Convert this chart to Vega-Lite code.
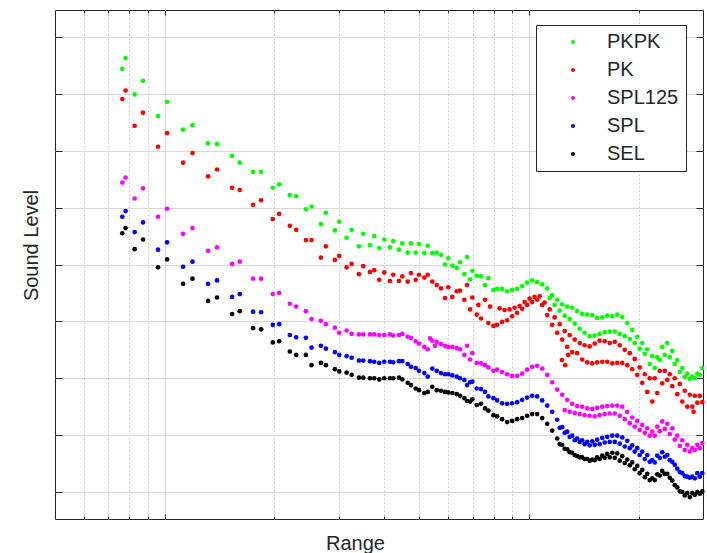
{
"$schema":"https://vega.github.io/schema/vega-lite/v6.json",
"width":648,"height":509,
"autosize":{"type":"none"},
"padding":{"left":55,"top":10,"right":4,"bottom":34},
"background":"white",
"config":{"font":"Liberation Sans","view":{"stroke":"#262626","strokeWidth":1}},
"datasets":{"pts":[
{"s":"PKPK","x":7.65,"y":174.4},{"s":"PKPK","x":7.81,"y":176.3},{"s":"PKPK","x":8.27,"y":169.9},{"s":"PKPK","x":8.72,"y":172.3},{"s":"PKPK","x":9.59,"y":166.1},{"s":"PKPK","x":10.15,"y":168.6},{"s":"PKPK","x":11.23,"y":163.7},{"s":"PKPK","x":11.92,"y":164.5},{"s":"PKPK","x":13.15,"y":161.3},{"s":"PKPK","x":13.92,"y":161.2},{"s":"PKPK","x":15.31,"y":159.1},{"s":"PKPK","x":16.07,"y":157.9},{"s":"PKPK","x":17.48,"y":156.3},{"s":"PKPK","x":18.39,"y":156.3},{"s":"PKPK","x":19.8,"y":153.5},{"s":"PKPK","x":20.61,"y":154.1},{"s":"PKPK","x":22.05,"y":152.2},{"s":"PKPK","x":22.95,"y":152.0},{"s":"PKPK","x":24.4,"y":149.7},{"s":"PKPK","x":25.29,"y":150.2},{"s":"PKPK","x":26.83,"y":147.1},{"s":"PKPK","x":27.69,"y":149.1},{"s":"PKPK","x":29.31,"y":146.0},{"s":"PKPK","x":30.12,"y":147.5},{"s":"PKPK","x":31.56,"y":144.7},{"s":"PKPK","x":32.58,"y":146.1},{"s":"PKPK","x":34.12,"y":143.2},{"s":"PKPK","x":35.06,"y":145.4},{"s":"PKPK","x":36.58,"y":143.4},{"s":"PKPK","x":37.59,"y":145.0},{"s":"PKPK","x":38.79,"y":142.9},
{"s":"PKPK","x":40.04,"y":144.4},{"s":"PKPK","x":41.51,"y":143.0},{"s":"PKPK","x":42.38,"y":144.1},{"s":"PKPK","x":43.94,"y":142.6},{"s":"PKPK","x":44.87,"y":143.7},{"s":"PKPK","x":46.43,"y":142.1},{"s":"PKPK","x":47.4,"y":143.7},{"s":"PKPK","x":48.84,"y":142.1},{"s":"PKPK","x":49.87,"y":143.6},{"s":"PKPK","x":51.57,"y":142.0},{"s":"PKPK","x":52.69,"y":143.3},{"s":"PKPK","x":54.24,"y":142.0},{"s":"PKPK","x":55.77,"y":142.1},{"s":"PKPK","x":57.31,"y":141.7},{"s":"PKPK","x":58.78,"y":140.0},{"s":"PKPK","x":60.02,"y":141.1},{"s":"PKPK","x":61.56,"y":139.8},{"s":"PKPK","x":63.3,"y":139.4},{"s":"PKPK","x":64.63,"y":140.4},{"s":"PKPK","x":66.41,"y":138.3},{"s":"PKPK","x":67.56,"y":141.3},{"s":"PKPK","x":68.85,"y":137.4},{"s":"PKPK","x":69.86,"y":138.9},{"s":"PKPK","x":71.83,"y":138.0},{"s":"PKPK","x":73.81,"y":137.9},{"s":"PKPK","x":75.7,"y":136.4},{"s":"PKPK","x":77.3,"y":137.6},{"s":"PKPK","x":79.79,"y":135.5},
{"s":"PKPK","x":81.68,"y":135.7},{"s":"PKPK","x":84.3,"y":135.7},{"s":"PKPK","x":87.01,"y":135.3},{"s":"PKPK","x":89.8,"y":135.5},{"s":"PKPK","x":92.69,"y":135.7},{"s":"PKPK","x":95.67,"y":136.2},{"s":"PKPK","x":98.74,"y":136.8},{"s":"PKPK","x":101.9,"y":137.2},{"s":"PKPK","x":105.2,"y":136.9},{"s":"PKPK","x":108.6,"y":136.5},{"s":"PKPK","x":112.1,"y":135.8},
{"s":"PKPK","x":115.7,"y":134.6},{"s":"PKPK","x":119.4,"y":133.8},{"s":"PKPK","x":123.2,"y":133.0},{"s":"PKPK","x":127.2,"y":132.6},{"s":"PKPK","x":131.3,"y":132.4},{"s":"PKPK","x":135.5,"y":131.8},{"s":"PKPK","x":139.8,"y":131.3},{"s":"PKPK","x":144.3,"y":131.2},{"s":"PKPK","x":149.0,"y":131.1},{"s":"PKPK","x":153.7,"y":130.6},{"s":"PKPK","x":158.7,"y":130.7},{"s":"PKPK","x":163.8,"y":131.0},{"s":"PKPK","x":169.1,"y":130.9},{"s":"PKPK","x":174.5,"y":131.2},{"s":"PKPK","x":180.1,"y":130.8},{"s":"PKPK","x":185.9,"y":129.7},{"s":"PKPK","x":191.8,"y":128.5},{"s":"PKPK","x":198.0,"y":127.3},{"s":"PKPK","x":204.4,"y":126.2},{"s":"PKPK","x":210.9,"y":125.1},{"s":"PKPK","x":217.7,"y":123.9},{"s":"PKPK","x":224.7,"y":123.7},{"s":"PKPK","x":231.9,"y":125.5},{"s":"PKPK","x":239.4,"y":126.2},{"s":"PKPK","x":247.1,"y":124.8},{"s":"PKPK","x":255.0,"y":123.2},{"s":"PKPK","x":263.2,"y":121.8},{"s":"PKPK","x":271.7,"y":120.8},{"s":"PKPK","x":280.4,"y":120.3},{"s":"PKPK","x":289.4,"y":120.8},{"s":"PKPK","x":298.7,"y":121.8},
{"s":"PKPK","x":113.9,"y":134.1},{"s":"PKPK","x":117.5,"y":132.9},{"s":"PKPK","x":121.3,"y":131.9},{"s":"PKPK","x":125.2,"y":131.0},{"s":"PKPK","x":129.2,"y":130.4},{"s":"PKPK","x":133.4,"y":129.6},{"s":"PKPK","x":137.7,"y":128.7},{"s":"PKPK","x":142.0,"y":128.0},{"s":"PKPK","x":146.6,"y":127.4},{"s":"PKPK","x":151.4,"y":127.5},{"s":"PKPK","x":156.1,"y":127.8},{"s":"PKPK","x":161.2,"y":128.1},{"s":"PKPK","x":166.4,"y":128.2},{"s":"PKPK","x":171.8,"y":128.2},{"s":"PKPK","x":177.3,"y":127.8},{"s":"PKPK","x":183.0,"y":127.4},{"s":"PKPK","x":188.9,"y":126.9},{"s":"PKPK","x":194.9,"y":126.2},{"s":"PKPK","x":201.1,"y":125.2},{"s":"PKPK","x":207.7,"y":124.3},{"s":"PKPK","x":214.3,"y":122.5},{"s":"PKPK","x":221.2,"y":121.8},{"s":"PKPK","x":228.3,"y":123.2},{"s":"PKPK","x":235.6,"y":124.1},{"s":"PKPK","x":243.2,"y":123.7},{"s":"PKPK","x":251.0,"y":122.5},{"s":"PKPK","x":259.1,"y":121.1},{"s":"PKPK","x":267.4,"y":120.2},{"s":"PKPK","x":276.0,"y":119.9},{"s":"PKPK","x":284.9,"y":120.0},{"s":"PKPK","x":294.0,"y":120.6},

{"s":"PK","x":7.65,"y":169.1},{"s":"PK","x":7.81,"y":170.6},{"s":"PK","x":8.27,"y":164.4},{"s":"PK","x":8.72,"y":166.7},{"s":"PK","x":9.59,"y":160.7},{"s":"PK","x":10.15,"y":163.1},{"s":"PK","x":11.23,"y":157.9},{"s":"PK","x":11.92,"y":159.6},{"s":"PK","x":13.15,"y":155.5},{"s":"PK","x":13.92,"y":156.7},{"s":"PK","x":15.31,"y":153.5},{"s":"PK","x":16.07,"y":153.1},{"s":"PK","x":17.48,"y":150.5},{"s":"PK","x":18.39,"y":151.3},{"s":"PK","x":19.8,"y":148.0},{"s":"PK","x":20.61,"y":148.9},{"s":"PK","x":22.05,"y":146.8},{"s":"PK","x":22.95,"y":146.1},{"s":"PK","x":24.4,"y":144.3},{"s":"PK","x":25.29,"y":144.3},{"s":"PK","x":26.83,"y":141.2},{"s":"PK","x":27.69,"y":143.2},{"s":"PK","x":29.31,"y":140.8},{"s":"PK","x":30.12,"y":141.5},{"s":"PK","x":31.56,"y":139.5},{"s":"PK","x":32.58,"y":140.1},{"s":"PK","x":34.12,"y":138.3},{"s":"PK","x":35.06,"y":139.7},{"s":"PK","x":36.58,"y":138.7},{"s":"PK","x":37.59,"y":139.0},{"s":"PK","x":38.79,"y":137.3},
{"s":"PK","x":40.04,"y":138.6},{"s":"PK","x":41.51,"y":137.1},{"s":"PK","x":42.38,"y":138.2},{"s":"PK","x":43.94,"y":137.1},{"s":"PK","x":44.87,"y":137.9},{"s":"PK","x":46.43,"y":137.0},{"s":"PK","x":47.4,"y":138.5},{"s":"PK","x":48.84,"y":137.3},{"s":"PK","x":49.87,"y":138.2},{"s":"PK","x":51.57,"y":137.7},{"s":"PK","x":52.69,"y":138.2},{"s":"PK","x":54.24,"y":137.0},{"s":"PK","x":55.77,"y":136.4},{"s":"PK","x":57.31,"y":135.8},{"s":"PK","x":58.78,"y":134.1},{"s":"PK","x":60.02,"y":136.0},{"s":"PK","x":61.56,"y":134.3},{"s":"PK","x":63.3,"y":135.3},{"s":"PK","x":64.63,"y":135.4},{"s":"PK","x":66.41,"y":133.8},{"s":"PK","x":67.56,"y":136.4},{"s":"PK","x":68.85,"y":132.1},{"s":"PK","x":69.86,"y":134.2},{"s":"PK","x":71.83,"y":131.2},{"s":"PK","x":72.56,"y":132.9},{"s":"PK","x":73.81,"y":130.5},{"s":"PK","x":75.7,"y":133.8},{"s":"PK","x":77.3,"y":129.7},{"s":"PK","x":78.14,"y":132.6},{"s":"PK","x":79.79,"y":129.2},
{"s":"PK","x":81.68,"y":129.4},{"s":"PK","x":84.3,"y":129.9},{"s":"PK","x":87.01,"y":130.2},{"s":"PK","x":89.8,"y":130.9},{"s":"PK","x":92.69,"y":131.5},{"s":"PK","x":95.67,"y":132.2},{"s":"PK","x":98.74,"y":132.9},{"s":"PK","x":101.9,"y":133.4},{"s":"PK","x":105.2,"y":133.8},{"s":"PK","x":108.6,"y":132.9},{"s":"PK","x":112.1,"y":131.1},{"s":"PK","x":115.7,"y":129.4},{"s":"PK","x":119.4,"y":128.0},{"s":"PK","x":123.2,"y":126.8},{"s":"PK","x":127.2,"y":125.5},{"s":"PK","x":131.3,"y":124.6},{"s":"PK","x":135.5,"y":124.4},{"s":"PK","x":139.8,"y":123.3},{"s":"PK","x":144.3,"y":122.8},{"s":"PK","x":149.0,"y":122.6},{"s":"PK","x":153.7,"y":122.8},{"s":"PK","x":158.7,"y":122.9},{"s":"PK","x":163.8,"y":122.9},{"s":"PK","x":169.1,"y":122.6},{"s":"PK","x":174.5,"y":122.7},{"s":"PK","x":180.1,"y":122.7},{"s":"PK","x":185.9,"y":122.3},{"s":"PK","x":191.8,"y":121.6},{"s":"PK","x":198.0,"y":120.6},{"s":"PK","x":204.4,"y":119.2},{"s":"PK","x":210.9,"y":117.6},{"s":"PK","x":217.7,"y":115.9},{"s":"PK","x":224.7,"y":117.4},{"s":"PK","x":231.9,"y":119.1},{"s":"PK","x":239.4,"y":119.7},{"s":"PK","x":247.1,"y":118.6},{"s":"PK","x":255.0,"y":117.2},{"s":"PK","x":263.2,"y":115.9},{"s":"PK","x":271.7,"y":115.0},{"s":"PK","x":280.4,"y":115.0},{"s":"PK","x":289.4,"y":115.7},{"s":"PK","x":298.7,"y":115.8},
{"s":"PK","x":82.98,"y":132.3},{"s":"PK","x":85.64,"y":132.0},{"s":"PK","x":88.39,"y":132.1},{"s":"PK","x":91.23,"y":132.4},{"s":"PK","x":94.16,"y":132.7},{"s":"PK","x":97.19,"y":133.4},{"s":"PK","x":100.3,"y":134.0},{"s":"PK","x":103.5,"y":134.3},{"s":"PK","x":106.9,"y":134.4},{"s":"PK","x":110.3,"y":133.3},{"s":"PK","x":113.9,"y":132.1},{"s":"PK","x":117.5,"y":130.7},{"s":"PK","x":121.3,"y":129.5},{"s":"PK","x":125.2,"y":128.3},{"s":"PK","x":129.2,"y":127.6},{"s":"PK","x":133.4,"y":126.8},{"s":"PK","x":137.7,"y":126.2},{"s":"PK","x":142.0,"y":125.8},{"s":"PK","x":146.6,"y":125.6},{"s":"PK","x":151.4,"y":126.1},{"s":"PK","x":156.1,"y":126.6},{"s":"PK","x":161.2,"y":126.5},{"s":"PK","x":166.4,"y":126.2},{"s":"PK","x":171.8,"y":126.4},{"s":"PK","x":177.3,"y":125.8},{"s":"PK","x":183.0,"y":125.0},{"s":"PK","x":188.9,"y":124.4},{"s":"PK","x":194.9,"y":123.4},{"s":"PK","x":201.1,"y":121.9},{"s":"PK","x":207.7,"y":120.7},{"s":"PK","x":214.3,"y":120.0},{"s":"PK","x":221.2,"y":120.0},{"s":"PK","x":228.3,"y":121.3},{"s":"PK","x":235.6,"y":121.3},{"s":"PK","x":243.2,"y":120.7},{"s":"PK","x":251.0,"y":120.0},{"s":"PK","x":259.1,"y":119.0},{"s":"PK","x":267.4,"y":117.8},{"s":"PK","x":276.0,"y":117.1},{"s":"PK","x":284.9,"y":116.9},{"s":"PK","x":294.0,"y":116.9},
{"s":"PK","x":123.0,"y":123.2},{"s":"PK","x":125.6,"y":122.3},{"s":"PK","x":128.0,"y":124.1},{"s":"PK","x":282.7,"y":114.1},

{"s":"SPL125","x":7.65,"y":154.4},{"s":"SPL125","x":7.81,"y":155.3},{"s":"SPL125","x":8.27,"y":151.6},{"s":"SPL125","x":8.72,"y":153.4},{"s":"SPL125","x":9.59,"y":148.4},{"s":"SPL125","x":10.15,"y":149.8},{"s":"SPL125","x":11.23,"y":145.4},{"s":"SPL125","x":11.92,"y":146.4},{"s":"SPL125","x":13.15,"y":142.4},{"s":"SPL125","x":13.92,"y":143.0},{"s":"SPL125","x":15.31,"y":140.1},{"s":"SPL125","x":16.07,"y":140.5},{"s":"SPL125","x":17.48,"y":137.5},{"s":"SPL125","x":18.39,"y":137.5},{"s":"SPL125","x":19.8,"y":134.8},{"s":"SPL125","x":20.61,"y":135.0},{"s":"SPL125","x":22.05,"y":133.1},{"s":"SPL125","x":22.95,"y":132.6},{"s":"SPL125","x":24.4,"y":131.8},{"s":"SPL125","x":25.29,"y":130.4},{"s":"SPL125","x":26.83,"y":130.1},{"s":"SPL125","x":27.69,"y":129.5},{"s":"SPL125","x":29.31,"y":128.9},{"s":"SPL125","x":30.12,"y":128.0},{"s":"SPL125","x":31.56,"y":128.4},{"s":"SPL125","x":32.58,"y":127.8},{"s":"SPL125","x":34.12,"y":127.7},{"s":"SPL125","x":35.06,"y":127.7},{"s":"SPL125","x":36.58,"y":127.7},{"s":"SPL125","x":37.59,"y":127.7},{"s":"SPL125","x":38.79,"y":127.6},
{"s":"SPL125","x":40.04,"y":127.6},{"s":"SPL125","x":41.51,"y":127.7},{"s":"SPL125","x":42.38,"y":127.5},{"s":"SPL125","x":43.94,"y":127.6},{"s":"SPL125","x":44.87,"y":127.8},{"s":"SPL125","x":46.43,"y":127.3},{"s":"SPL125","x":47.4,"y":127.1},{"s":"SPL125","x":48.84,"y":126.5},{"s":"SPL125","x":49.87,"y":126.1},{"s":"SPL125","x":51.57,"y":125.5},{"s":"SPL125","x":52.69,"y":125.1},{"s":"SPL125","x":53.46,"y":127.0},{"s":"SPL125","x":54.24,"y":126.6},{"s":"SPL125","x":55.18,"y":125.7},{"s":"SPL125","x":55.77,"y":126.4},{"s":"SPL125","x":57.31,"y":126.0},{"s":"SPL125","x":58.78,"y":125.7},{"s":"SPL125","x":60.02,"y":125.5},{"s":"SPL125","x":61.56,"y":125.5},{"s":"SPL125","x":63.3,"y":125.3},{"s":"SPL125","x":64.63,"y":125.1},{"s":"SPL125","x":66.41,"y":124.1},{"s":"SPL125","x":67.56,"y":125.7},{"s":"SPL125","x":68.85,"y":123.3},{"s":"SPL125","x":69.86,"y":124.4},{"s":"SPL125","x":71.83,"y":122.7},{"s":"SPL125","x":73.81,"y":122.6},{"s":"SPL125","x":75.7,"y":122.3},{"s":"SPL125","x":77.3,"y":121.9},{"s":"SPL125","x":79.79,"y":121.3},
{"s":"SPL125","x":81.68,"y":121.5},{"s":"SPL125","x":84.3,"y":121.1},{"s":"SPL125","x":87.01,"y":120.7},{"s":"SPL125","x":89.8,"y":120.4},{"s":"SPL125","x":92.69,"y":120.4},{"s":"SPL125","x":95.67,"y":120.8},{"s":"SPL125","x":98.74,"y":121.5},{"s":"SPL125","x":101.9,"y":122.0},{"s":"SPL125","x":105.2,"y":122.2},{"s":"SPL125","x":108.6,"y":121.7},{"s":"SPL125","x":112.1,"y":120.6},{"s":"SPL125","x":115.7,"y":119.3},{"s":"SPL125","x":119.4,"y":118.0},{"s":"SPL125","x":123.2,"y":117.1},{"s":"SPL125","x":127.2,"y":116.2},{"s":"SPL125","x":131.3,"y":115.5},{"s":"SPL125","x":135.5,"y":115.1},{"s":"SPL125","x":139.8,"y":115.0},{"s":"SPL125","x":144.3,"y":114.7},{"s":"SPL125","x":149.0,"y":114.6},{"s":"SPL125","x":153.7,"y":114.8},{"s":"SPL125","x":158.7,"y":115.0},{"s":"SPL125","x":163.8,"y":115.1},{"s":"SPL125","x":169.1,"y":115.2},{"s":"SPL125","x":174.5,"y":115.2},{"s":"SPL125","x":180.1,"y":115.0},{"s":"SPL125","x":185.9,"y":114.1},{"s":"SPL125","x":191.8,"y":113.1},{"s":"SPL125","x":198.0,"y":112.5},{"s":"SPL125","x":204.4,"y":111.8},{"s":"SPL125","x":210.9,"y":111.2},{"s":"SPL125","x":217.7,"y":110.6},{"s":"SPL125","x":224.7,"y":111.5},{"s":"SPL125","x":231.9,"y":112.4},{"s":"SPL125","x":239.4,"y":112.0},{"s":"SPL125","x":247.1,"y":111.2},{"s":"SPL125","x":255.0,"y":109.9},{"s":"SPL125","x":263.2,"y":109.1},{"s":"SPL125","x":271.7,"y":108.3},{"s":"SPL125","x":280.4,"y":107.7},{"s":"SPL125","x":289.4,"y":108.3},{"s":"SPL125","x":298.7,"y":108.6},
{"s":"SPL125","x":125.2,"y":114.4},{"s":"SPL125","x":129.2,"y":114.1},{"s":"SPL125","x":133.4,"y":113.9},{"s":"SPL125","x":137.7,"y":113.7},{"s":"SPL125","x":142.0,"y":113.5},{"s":"SPL125","x":146.6,"y":113.4},{"s":"SPL125","x":151.4,"y":113.3},{"s":"SPL125","x":156.1,"y":113.5},{"s":"SPL125","x":161.2,"y":113.7},{"s":"SPL125","x":166.4,"y":113.8},{"s":"SPL125","x":171.8,"y":113.8},{"s":"SPL125","x":177.3,"y":113.4},{"s":"SPL125","x":183.0,"y":112.8},{"s":"SPL125","x":188.9,"y":112.1},{"s":"SPL125","x":194.9,"y":111.5},{"s":"SPL125","x":201.1,"y":110.9},{"s":"SPL125","x":207.7,"y":110.4},{"s":"SPL125","x":214.3,"y":109.9},{"s":"SPL125","x":221.2,"y":109.9},{"s":"SPL125","x":228.3,"y":110.7},{"s":"SPL125","x":235.6,"y":111.1},{"s":"SPL125","x":243.2,"y":110.2},{"s":"SPL125","x":251.0,"y":109.2},{"s":"SPL125","x":259.1,"y":108.1},{"s":"SPL125","x":267.4,"y":107.4},{"s":"SPL125","x":276.0,"y":107.1},{"s":"SPL125","x":284.9,"y":107.4},{"s":"SPL125","x":294.0,"y":107.7},

{"s":"SPL","x":7.65,"y":148.4},{"s":"SPL","x":7.81,"y":149.4},{"s":"SPL","x":8.27,"y":145.7},{"s":"SPL","x":8.72,"y":147.4},{"s":"SPL","x":9.59,"y":142.6},{"s":"SPL","x":10.15,"y":143.9},{"s":"SPL","x":11.23,"y":139.6},{"s":"SPL","x":11.92,"y":140.5},{"s":"SPL","x":13.15,"y":136.6},{"s":"SPL","x":13.92,"y":137.2},{"s":"SPL","x":15.31,"y":134.3},{"s":"SPL","x":16.07,"y":134.8},{"s":"SPL","x":17.48,"y":131.7},{"s":"SPL","x":18.39,"y":131.6},{"s":"SPL","x":19.8,"y":129.4},{"s":"SPL","x":20.61,"y":129.5},{"s":"SPL","x":22.05,"y":127.6},{"s":"SPL","x":22.95,"y":127.2},{"s":"SPL","x":24.4,"y":127.1},{"s":"SPL","x":25.29,"y":125.4},{"s":"SPL","x":26.83,"y":125.7},{"s":"SPL","x":27.69,"y":125.2},{"s":"SPL","x":29.31,"y":124.6},{"s":"SPL","x":30.12,"y":124.1},{"s":"SPL","x":31.56,"y":123.9},{"s":"SPL","x":32.58,"y":123.6},{"s":"SPL","x":34.12,"y":123.1},{"s":"SPL","x":35.06,"y":123.1},{"s":"SPL","x":36.58,"y":123.0},{"s":"SPL","x":37.59,"y":122.9},{"s":"SPL","x":38.79,"y":122.7},
{"s":"SPL","x":40.04,"y":122.9},{"s":"SPL","x":41.51,"y":122.9},{"s":"SPL","x":42.38,"y":122.8},{"s":"SPL","x":43.94,"y":123.0},{"s":"SPL","x":44.87,"y":123.0},{"s":"SPL","x":46.43,"y":122.5},{"s":"SPL","x":47.4,"y":122.0},{"s":"SPL","x":48.84,"y":121.8},{"s":"SPL","x":49.87,"y":121.3},{"s":"SPL","x":51.57,"y":120.9},{"s":"SPL","x":52.69,"y":120.3},{"s":"SPL","x":54.24,"y":121.7},{"s":"SPL","x":55.77,"y":121.3},{"s":"SPL","x":57.31,"y":120.9},{"s":"SPL","x":58.78,"y":120.7},{"s":"SPL","x":60.02,"y":120.7},{"s":"SPL","x":61.56,"y":120.5},{"s":"SPL","x":63.3,"y":120.3},{"s":"SPL","x":64.63,"y":120.0},{"s":"SPL","x":66.41,"y":119.7},{"s":"SPL","x":67.56,"y":118.8},{"s":"SPL","x":68.85,"y":119.3},{"s":"SPL","x":69.86,"y":119.4},{"s":"SPL","x":71.83,"y":118.2},{"s":"SPL","x":73.81,"y":118.1},{"s":"SPL","x":75.7,"y":117.6},{"s":"SPL","x":77.3,"y":116.8},{"s":"SPL","x":79.79,"y":116.5},
{"s":"SPL","x":81.68,"y":116.1},{"s":"SPL","x":84.3,"y":115.6},{"s":"SPL","x":87.01,"y":115.5},{"s":"SPL","x":89.8,"y":115.6},{"s":"SPL","x":92.69,"y":115.8},{"s":"SPL","x":95.67,"y":116.2},{"s":"SPL","x":98.74,"y":116.6},{"s":"SPL","x":101.9,"y":116.9},{"s":"SPL","x":105.2,"y":116.8},{"s":"SPL","x":108.6,"y":116.1},{"s":"SPL","x":112.1,"y":115.2},{"s":"SPL","x":115.7,"y":114.1},{"s":"SPL","x":119.4,"y":112.7},{"s":"SPL","x":123.2,"y":111.4},{"s":"SPL","x":127.2,"y":110.6},{"s":"SPL","x":131.3,"y":109.9},{"s":"SPL","x":135.5,"y":109.4},{"s":"SPL","x":139.8,"y":109.1},{"s":"SPL","x":144.3,"y":108.8},{"s":"SPL","x":149.0,"y":108.9},{"s":"SPL","x":153.7,"y":109.2},{"s":"SPL","x":158.7,"y":109.5},{"s":"SPL","x":163.8,"y":109.7},{"s":"SPL","x":169.1,"y":109.9},{"s":"SPL","x":174.5,"y":109.9},{"s":"SPL","x":180.1,"y":109.6},{"s":"SPL","x":185.9,"y":109.0},{"s":"SPL","x":191.8,"y":108.2},{"s":"SPL","x":198.0,"y":107.7},{"s":"SPL","x":204.4,"y":107.1},{"s":"SPL","x":210.9,"y":106.5},{"s":"SPL","x":217.7,"y":105.6},{"s":"SPL","x":224.7,"y":106.4},{"s":"SPL","x":231.9,"y":107.0},{"s":"SPL","x":239.4,"y":106.5},{"s":"SPL","x":247.1,"y":105.3},{"s":"SPL","x":255.0,"y":104.1},{"s":"SPL","x":263.2,"y":103.3},{"s":"SPL","x":271.7,"y":102.7},{"s":"SPL","x":280.4,"y":102.7},{"s":"SPL","x":289.4,"y":103.3},{"s":"SPL","x":298.7,"y":103.3},
{"s":"SPL","x":121.3,"y":111.3},{"s":"SPL","x":125.2,"y":110.4},{"s":"SPL","x":129.2,"y":109.7},{"s":"SPL","x":133.4,"y":109.1},{"s":"SPL","x":137.7,"y":108.8},{"s":"SPL","x":142.0,"y":108.4},{"s":"SPL","x":146.6,"y":108.2},{"s":"SPL","x":151.4,"y":108.3},{"s":"SPL","x":156.1,"y":108.4},{"s":"SPL","x":161.2,"y":108.7},{"s":"SPL","x":166.4,"y":108.8},{"s":"SPL","x":171.8,"y":108.8},{"s":"SPL","x":177.3,"y":108.5},{"s":"SPL","x":183.0,"y":108.0},{"s":"SPL","x":188.9,"y":107.7},{"s":"SPL","x":194.9,"y":107.1},{"s":"SPL","x":201.1,"y":106.5},{"s":"SPL","x":207.7,"y":105.8},{"s":"SPL","x":214.3,"y":105.3},{"s":"SPL","x":221.2,"y":105.2},{"s":"SPL","x":228.3,"y":106.0},{"s":"SPL","x":235.6,"y":106.2},{"s":"SPL","x":243.2,"y":105.6},{"s":"SPL","x":251.0,"y":104.8},{"s":"SPL","x":259.1,"y":103.5},{"s":"SPL","x":267.4,"y":102.8},{"s":"SPL","x":276.0,"y":102.5},{"s":"SPL","x":284.9,"y":102.4},{"s":"SPL","x":294.0,"y":102.7},

{"s":"SEL","x":7.65,"y":145.5},{"s":"SEL","x":7.81,"y":146.4},{"s":"SEL","x":8.27,"y":142.7},{"s":"SEL","x":8.72,"y":144.4},{"s":"SEL","x":9.59,"y":139.5},{"s":"SEL","x":10.15,"y":140.9},{"s":"SEL","x":11.23,"y":136.6},{"s":"SEL","x":11.92,"y":137.5},{"s":"SEL","x":13.15,"y":133.6},{"s":"SEL","x":13.92,"y":134.2},{"s":"SEL","x":15.31,"y":131.3},{"s":"SEL","x":16.07,"y":131.8},{"s":"SEL","x":17.48,"y":128.8},{"s":"SEL","x":18.39,"y":128.6},{"s":"SEL","x":19.8,"y":126.3},{"s":"SEL","x":20.61,"y":126.5},{"s":"SEL","x":22.05,"y":124.7},{"s":"SEL","x":22.95,"y":124.1},{"s":"SEL","x":24.4,"y":124.1},{"s":"SEL","x":25.29,"y":122.3},{"s":"SEL","x":26.83,"y":122.7},{"s":"SEL","x":27.69,"y":122.3},{"s":"SEL","x":29.31,"y":121.6},{"s":"SEL","x":30.12,"y":121.2},{"s":"SEL","x":31.56,"y":121.0},{"s":"SEL","x":32.58,"y":120.6},{"s":"SEL","x":34.12,"y":120.1},{"s":"SEL","x":35.06,"y":120.1},{"s":"SEL","x":36.58,"y":120.0},{"s":"SEL","x":37.59,"y":120.0},{"s":"SEL","x":38.79,"y":119.8},
{"s":"SEL","x":40.04,"y":120.0},{"s":"SEL","x":41.51,"y":120.0},{"s":"SEL","x":42.38,"y":120.0},{"s":"SEL","x":43.94,"y":120.1},{"s":"SEL","x":44.87,"y":119.8},{"s":"SEL","x":46.43,"y":119.2},{"s":"SEL","x":47.4,"y":118.8},{"s":"SEL","x":48.84,"y":118.2},{"s":"SEL","x":49.87,"y":117.9},{"s":"SEL","x":51.57,"y":117.4},{"s":"SEL","x":52.69,"y":117.6},{"s":"SEL","x":54.24,"y":118.5},{"s":"SEL","x":55.77,"y":117.9},{"s":"SEL","x":57.31,"y":117.8},{"s":"SEL","x":58.78,"y":117.6},{"s":"SEL","x":60.02,"y":117.5},{"s":"SEL","x":61.56,"y":117.4},{"s":"SEL","x":63.3,"y":117.2},{"s":"SEL","x":64.63,"y":116.9},{"s":"SEL","x":66.41,"y":116.5},{"s":"SEL","x":67.56,"y":116.0},{"s":"SEL","x":68.85,"y":115.9},{"s":"SEL","x":69.86,"y":116.3},{"s":"SEL","x":71.83,"y":115.3},{"s":"SEL","x":73.81,"y":115.5},{"s":"SEL","x":75.7,"y":114.7},{"s":"SEL","x":77.3,"y":114.3},{"s":"SEL","x":79.79,"y":113.5},
{"s":"SEL","x":81.68,"y":113.3},{"s":"SEL","x":84.3,"y":112.8},{"s":"SEL","x":87.01,"y":112.3},{"s":"SEL","x":89.8,"y":112.5},{"s":"SEL","x":92.69,"y":112.8},{"s":"SEL","x":95.67,"y":113.0},{"s":"SEL","x":98.74,"y":113.4},{"s":"SEL","x":101.9,"y":113.7},{"s":"SEL","x":105.2,"y":113.7},{"s":"SEL","x":108.6,"y":113.0},{"s":"SEL","x":112.1,"y":112.0},{"s":"SEL","x":115.7,"y":110.8},{"s":"SEL","x":119.4,"y":109.4},{"s":"SEL","x":123.2,"y":108.3},{"s":"SEL","x":127.2,"y":107.5},{"s":"SEL","x":131.3,"y":106.9},{"s":"SEL","x":135.5,"y":106.3},{"s":"SEL","x":139.8,"y":106.1},{"s":"SEL","x":144.3,"y":105.8},{"s":"SEL","x":149.0,"y":105.7},{"s":"SEL","x":153.7,"y":106.1},{"s":"SEL","x":158.7,"y":106.4},{"s":"SEL","x":163.8,"y":106.7},{"s":"SEL","x":169.1,"y":106.9},{"s":"SEL","x":174.5,"y":106.8},{"s":"SEL","x":180.1,"y":106.3},{"s":"SEL","x":185.9,"y":105.7},{"s":"SEL","x":191.8,"y":105.2},{"s":"SEL","x":198.0,"y":104.6},{"s":"SEL","x":204.4,"y":103.9},{"s":"SEL","x":210.9,"y":103.2},{"s":"SEL","x":217.7,"y":102.4},{"s":"SEL","x":224.7,"y":103.1},{"s":"SEL","x":231.9,"y":103.7},{"s":"SEL","x":239.4,"y":103.2},{"s":"SEL","x":247.1,"y":102.0},{"s":"SEL","x":255.0,"y":100.8},{"s":"SEL","x":263.2,"y":100.0},{"s":"SEL","x":271.7,"y":99.8},{"s":"SEL","x":280.4,"y":99.8},{"s":"SEL","x":289.4,"y":100.0},{"s":"SEL","x":298.7,"y":100.1},
{"s":"SEL","x":121.3,"y":108.4},{"s":"SEL","x":125.2,"y":107.6},{"s":"SEL","x":129.2,"y":107.0},{"s":"SEL","x":133.4,"y":106.5},{"s":"SEL","x":137.7,"y":106.1},{"s":"SEL","x":142.0,"y":105.8},{"s":"SEL","x":146.6,"y":105.5},{"s":"SEL","x":151.4,"y":105.6},{"s":"SEL","x":156.1,"y":105.8},{"s":"SEL","x":161.2,"y":106.0},{"s":"SEL","x":166.4,"y":106.1},{"s":"SEL","x":171.8,"y":106.0},{"s":"SEL","x":177.3,"y":105.5},{"s":"SEL","x":183.0,"y":105.1},{"s":"SEL","x":188.9,"y":104.7},{"s":"SEL","x":194.9,"y":104.0},{"s":"SEL","x":201.1,"y":103.3},{"s":"SEL","x":207.7,"y":102.6},{"s":"SEL","x":214.3,"y":102.1},{"s":"SEL","x":221.2,"y":102.1},{"s":"SEL","x":228.3,"y":102.9},{"s":"SEL","x":235.6,"y":103.2},{"s":"SEL","x":243.2,"y":102.5},{"s":"SEL","x":251.0,"y":101.2},{"s":"SEL","x":259.1,"y":100.1},{"s":"SEL","x":267.4,"y":99.4},{"s":"SEL","x":276.0,"y":99.1},{"s":"SEL","x":284.9,"y":99.5},{"s":"SEL","x":294.0,"y":99.7}
],"none":[]},
"layer":[
{"data":{"name":"pts"},
 "mark":{"type":"point","filled":true,"size":22,"opacity":1,"shape":"circle"},
 "encoding":{
  "x":{"field":"x","type":"quantitative","scale":{"type":"log","domain":[5,300],"nice":false},
   "axis":{"orient":"bottom","values":[6,7,8,9,10,20,30,40,50,60,70,80,90,100,200],"labels":false,"domain":false,
    "grid":true,
    "gridColor":{"condition":{"test":"datum.value === 10 || datum.value === 100","value":"#d9d9d9"},"value":"#c8c8c8"},
    "gridDash":{"condition":{"test":"datum.value === 10 || datum.value === 100","value":[]},"value":[1.5,2.5]},
    "tickColor":"#262626",
    "tickSize":{"condition":{"test":"datum.value === 10 || datum.value === 100","value":-5},"value":-3},
    "title":"Range","titleFont":"Liberation Sans","titleFontSize":20,"titleFontWeight":"normal","titleColor":"#262626",
    "titleX":300,"titleY":30,"titleAlign":"center","titleBaseline":"alphabetic","titleAnchor":null}},
  "y":{"field":"y","type":"quantitative","scale":{"domain":[95.25,184.75],"nice":false,"zero":false},
   "axis":{"orient":"left","values":[100,110,120,130,140,150,160,170,180],"labels":false,"domain":false,
    "grid":true,"gridColor":"#d9d9d9","tickColor":"#262626","tickSize":-7,
    "title":"Sound Level","titleFont":"Liberation Sans","titleFontSize":20,"titleFontWeight":"normal","titleColor":"#262626",
    "titleX":-18,"titleY":235,"titleAngle":-90,"titleAlign":"center","titleBaseline":"alphabetic"}},
  "color":{"field":"s","type":"nominal",
   "scale":{"domain":["PKPK","PK","SPL125","SPL","SEL"],"range":["#00ff00","#ff0000","#ff00ff","#0000ff","#000000"]},
   "legend":{"orient":"none","legendX":481,"legendY":15,"title":null,"labelFont":"Liberation Sans","labelFontSize":20,"labelColor":"#262626",
    "symbolType":"circle","symbolSize":16,"symbolStrokeWidth":0,"padding":7,"rowPadding":8,"strokeColor":"#262626","fillColor":"white",
    "symbolOffset":20,"labelOffset":24,"labelLimit":300}}
 }},
{"data":{"name":"none"},
 "mark":{"type":"point"},
 "encoding":{
  "x":{"field":"x","type":"quantitative","scale":{"type":"log","domain":[5,300],"nice":false},
   "axis":{"orient":"top","values":[6,7,8,9,10,20,30,40,50,60,70,80,90,100,200],"labels":false,"domain":false,"grid":false,"title":null,
    "tickColor":"#262626",
    "tickSize":{"condition":{"test":"datum.value === 10 || datum.value === 100","value":-5},"value":-3}}},
  "y":{"field":"y","type":"quantitative","scale":{"domain":[95.25,184.75],"nice":false,"zero":false},
   "axis":{"orient":"right","values":[100,110,120,130,140,150,160,170,180],"labels":false,"domain":false,"grid":false,"title":null,
    "tickColor":"#262626","tickSize":-7}}
 }}
],
"resolve":{"axis":{"x":"independent","y":"independent"}}
}
